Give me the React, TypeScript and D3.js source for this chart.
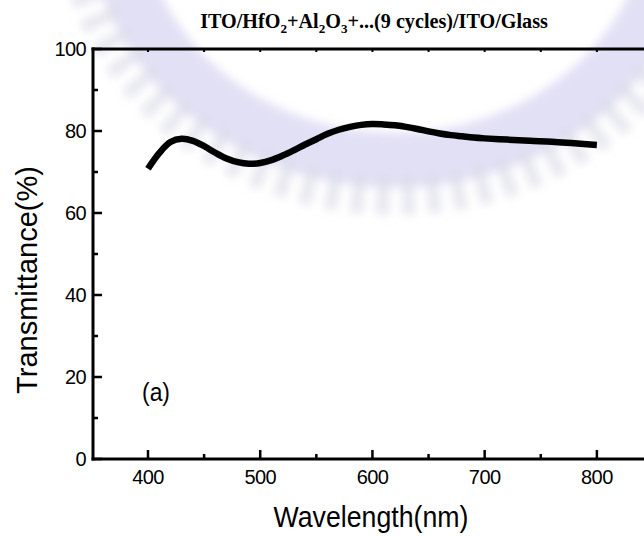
import React, { useLayoutEffect, useRef, useState } from "react";
import * as d3 from "d3";

// ---- data ----
const wavelengths = [
  400, 410, 420, 430, 440, 450, 460, 470, 480, 490, 500, 510, 520, 530, 540, 550,
  560, 570, 580, 590, 600, 610, 620, 630, 640, 650, 660, 670, 680, 690, 700, 720,
  740, 760, 780, 800,
];
const transmittance = [
  70.8, 74.6, 77.3, 78.1, 77.6, 76.3, 74.7, 73.3, 72.4, 72.0, 72.2, 72.9, 74.0, 75.3, 76.7, 78.0,
  79.3, 80.3, 81.0, 81.5, 81.7, 81.6, 81.4, 81.0, 80.5, 79.9, 79.4, 79.0, 78.7, 78.4, 78.2, 77.9,
  77.6, 77.4, 77.0, 76.6,
];
const xTicks = [400, 500, 600, 700, 800];
const xMinorTicks = [450, 550, 650, 750, 850];
const yTicks = [0, 20, 40, 60, 80, 100];
const yMinorTicks = [10, 30, 50, 70, 90];
const xTitle = "Wavelength(nm)";
const yTitle = "Transmittance(%)";
const panelLabel = "(a)";

const W = 644;
const H = 536;
const x = d3.scaleLinear().domain([351, 850]).range([93, 653]);
const y = d3.scaleLinear().domain([0, 100]).range([459, 49]);

const SANS = "'Liberation Sans', Arial, Helvetica, sans-serif";
const SERIF = "'Liberation Serif', 'Times New Roman', serif";

function FitText(props: {
  x: number;
  y: number;
  width: number;
  rotate?: number;
  anchor?: string;
  style?: React.CSSProperties;
  children: React.ReactNode;
}) {
  const ref = useRef<SVGTextElement>(null);
  const [s, setS] = useState(1);
  useLayoutEffect(() => {
    if (ref.current) {
      const w = ref.current.getBBox().width;
      if (w > 0) setS(props.width / w);
    }
  }, [props.width]);
  return (
    <g transform={`translate(${props.x},${props.y}) rotate(${props.rotate || 0})`}>
      <text
        ref={ref}
        transform={`scale(${s},1)`}
        textAnchor={(props.anchor as any) || "middle"}
        style={props.style}
      >
        {props.children}
      </text>
    </g>
  );
}

export default function App() {
  const pts = wavelengths.map((w, i) => [w, transmittance[i]] as [number, number]);
  const line = d3
    .line<[number, number]>()
    .x((d) => x(d[0]))
    .y((d) => y(d[1]))
    .curve(d3.curveCatmullRom.alpha(0.5));

  // decorative watermark ring (background)
  const cx = 395, cy = -95, rx = 320, ry = 290;
  const angles = d3.range(2, 179, 1).map((a) => (a * Math.PI) / 180);
  const ring = (k: number) =>
    d3.line<number>()
      .x((a) => cx + rx * k * Math.cos(a))
      .y((a) => cy + ry * k * Math.sin(a))(angles) as string;

  const x0 = x.range()[0];
  const x1 = x.range()[1];
  const yb = y(0);
  const yt = y(100);

  return (
    <div style={{ position: "absolute", left: 0, top: 0, width: W, height: H, background: "#fff" }}>
      <svg width={W} height={H} style={{ display: "block" }}>
        <defs>
          <filter id="wm" x="-20%" y="-20%" width="140%" height="140%">
            <feGaussianBlur stdDeviation="5" />
          </filter>
        </defs>
        <rect width={W} height={H} fill="#fff" />
        <g filter="url(#wm)">
          <path d={ring(0.88)} fill="none" stroke="#d8d5f2" strokeWidth={55} opacity={0.75} />
          <path
            d={ring(1.0)}
            fill="none"
            stroke="#dcdbe8"
            strokeWidth={40}
            strokeDasharray="12 13"
            opacity={0.7}
          />
        </g>

        {/* frame */}
        <g stroke="#000" strokeWidth={3} strokeLinecap="square" fill="none">
          <line x1={x0} y1={yb} x2={x1} y2={yb} />
          <line x1={x0} y1={yt} x2={x1} y2={yt} />
          <line x1={x0} y1={yt} x2={x0} y2={yb} />
        </g>

        {/* x ticks */}
        <g stroke="#000" strokeWidth={2.5}>
          {xTicks.map((t) => (
            <line key={"xt" + t} x1={x(t)} x2={x(t)} y1={yb} y2={yb - 9} />
          ))}
          {xMinorTicks.map((t) => (
            <line key={"xm" + t} x1={x(t)} x2={x(t)} y1={yb} y2={yb - 5} />
          ))}
          {xTicks.concat(xMinorTicks).map((t) => (
            <line key={"xtt" + t} x1={x(t)} x2={x(t)} y1={yt} y2={yt + 3} strokeWidth={2} />
          ))}
        </g>
        {/* y ticks */}
        <g stroke="#000" strokeWidth={2.5}>
          {yTicks.map((t) => (
            <line key={"yt" + t} x1={x0} x2={x0 + 9} y1={y(t)} y2={y(t)} />
          ))}
          {yMinorTicks.map((t) => (
            <line key={"ym" + t} x1={x0} x2={x0 + 5} y1={y(t)} y2={y(t)} />
          ))}
        </g>

        {/* tick labels */}
        <g fontFamily={SANS} fontSize={20} fill="#000" letterSpacing={-0.6}>
          {xTicks.map((t) => (
            <text key={"xl" + t} x={x(t)} y={484} textAnchor="middle">
              {t}
            </text>
          ))}
          {yTicks.map((t) => (
            <text key={"yl" + t} x={86} y={y(t) + 7} textAnchor="end">
              {t}
            </text>
          ))}
        </g>

        {/* curve */}
        <path d={line(pts) as string} fill="none" stroke="#000" strokeWidth={6.5} strokeLinecap="butt" />

        {/* titles */}
        <FitText x={371} y={527} width={195} style={{ fontFamily: SANS, fontSize: 30 }}>
          {xTitle}
        </FitText>
        <FitText x={37} y={280} width={228} rotate={-90} style={{ fontFamily: SANS, fontSize: 30 }}>
          {yTitle}
        </FitText>
        <FitText x={142} y={401} width={28} anchor="start" style={{ fontFamily: SANS, fontSize: 26 }}>
          {panelLabel}
        </FitText>
        <FitText
          x={374}
          y={28}
          width={348}
          style={{ fontFamily: SERIF, fontSize: 20, fontWeight: "bold" }}
        >
          ITO/HfO
          <tspan fontSize={13} dy={5}>2</tspan>
          <tspan dy={-5}>+Al</tspan>
          <tspan fontSize={13} dy={5}>2</tspan>
          <tspan dy={-5}>O</tspan>
          <tspan fontSize={13} dy={5}>3</tspan>
          <tspan dy={-5}>+...(9 cycles)/ITO/Glass</tspan>
        </FitText>
      </svg>
    </div>
  );
}
